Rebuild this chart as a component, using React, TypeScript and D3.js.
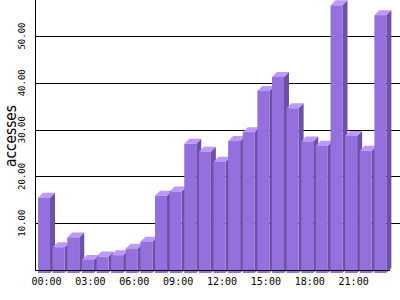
import React from "react";
import * as d3 from "d3";

const hours = ["00","01","02","03","04","05","06","07","08","09","10","11","12","13","14","15","16","17","18","19","20","21","22","23"];
const accesses = [16.1, 5.5, 7.6, 2.8, 3.5, 3.8, 5.2, 6.7, 16.5, 17.4, 27.6, 25.9, 23.8, 28.2, 30.1, 38.9, 41.9, 35.2, 28.1, 27.2, 57.2, 29.3, 26.1, 55.1];
const yTicks = [10, 20, 30, 40, 50];
const xLabelEvery = 3;

const W = 400, H = 300;
const FRONT = "#9370DB";
const TOP = "#BC98FA";
const SIDE = "#6B52A8";
const DX = 5, DY = 5, DROP = 3;

export default function App() {
  const x = d3.scaleBand<string>().domain(hours).range([35.4, 389]).paddingInner(0.18).paddingOuter(0.18);
  const y = d3.scaleLinear().domain([0, 57.7]).range([270, 0]);
  const bw = x.bandwidth();
  const y0 = y(0);
  return (
    <svg width={W} height={H} style={{ position: "absolute", left: 0, top: 0, background: "#fff" }}>
      {yTicks.map(t => (
        <line key={t} x1={35} x2={400} y1={Math.round(y(t)) + 0.5} y2={Math.round(y(t)) + 0.5} stroke="#000" strokeWidth={1} />
      ))}
      {hours.map((h, i) => {
        const xf = x(h)!;
        const yt = y(accesses[i]) + DROP;
        const yb = y0 + DROP;
        const top = `M${xf},${yt} L${xf + bw},${yt} L${xf + bw + DX},${yt - DY} L${xf + DX},${yt - DY} Z`;
        const side = `M${xf + bw},${yt} L${xf + bw + DX},${yt - DY} L${xf + bw + DX},${yb - DY} L${xf + bw},${yb} Z`;
        return (
          <g key={h}>
            <path d={side} fill={SIDE} />
            <path d={top} fill={TOP} />
            <rect x={xf} y={yt} width={bw} height={yb - yt} fill={FRONT} />
          </g>
        );
      })}
      <line x1={35} x2={390} y1={Math.round(y0) + 0.5} y2={Math.round(y0) + 0.5} stroke="#000" />
      <line x1={35.5} x2={35.5} y1={0} y2={Math.round(y0) + 1} stroke="#000" />
      {hours.map((h, i) => i % xLabelEvery === 0 ? (
        <text key={h} x={x(h)! + bw / 2 + 2.5} y={285} textAnchor="middle" fontFamily="'DejaVu Sans Mono', monospace" fontSize={10} fill="#000">{h}:00</text>
      ) : null)}
      {yTicks.map(t => (
        <text key={t} transform={`translate(25,${y(t)}) rotate(-90)`} textAnchor="middle" fontFamily="'DejaVu Sans Mono', monospace" fontSize={9} fill="#000">{t.toFixed(2)}</text>
      ))}
      <text transform="translate(16,136) rotate(-90)" textAnchor="middle" fontFamily="'DejaVu Sans', sans-serif" fontSize={16} textLength={62} lengthAdjust="spacingAndGlyphs" fill="#000">accesses</text>
    </svg>
  );
}
